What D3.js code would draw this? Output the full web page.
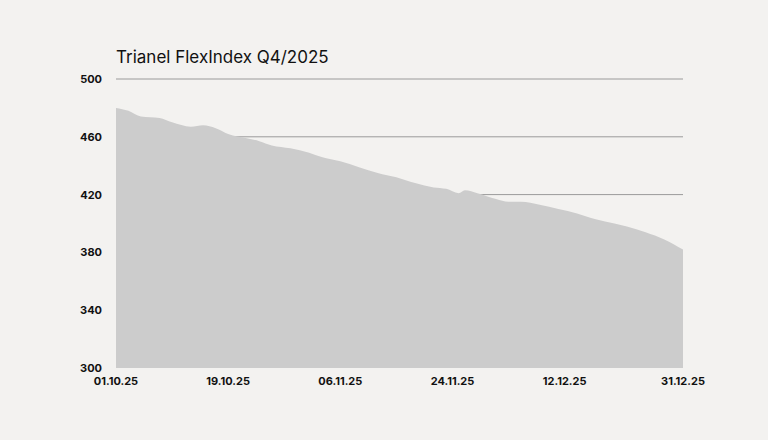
<!DOCTYPE html>
<html><head><meta charset="utf-8">
<script src="https://cdn.jsdelivr.net/npm/d3@7"></script>
<style>body{margin:0;background:#f3f2f0;}svg{display:block;font-family:Inter,"Noto Sans",sans-serif;}</style>
</head><body><svg id="c" width="768" height="440"></svg>
<script>
const title = "Trianel FlexIndex Q4/2025";
const dates = ["2025-10-01","2025-10-03","2025-10-05","2025-10-08","2025-10-10","2025-10-13","2025-10-15","2025-10-17","2025-10-19","2025-10-22","2025-10-24","2025-10-26","2025-10-29","2025-11-01","2025-11-03","2025-11-06","2025-11-09","2025-11-12","2025-11-15","2025-11-18","2025-11-21","2025-11-23","2025-11-25","2025-11-26","2025-11-28","2025-12-01","2025-12-03","2025-12-05","2025-12-08","2025-12-11","2025-12-14","2025-12-17","2025-12-20","2025-12-22","2025-12-25","2025-12-28","2025-12-31"];
const values = [480,478,474,473,470,467,468,466,462,459,457,454,452,449,446,443,439,435,432,428,425,424,421,423,421,417,415,415,413,410,407,403,400,398,394,389,382];
const xTicks = ["2025-10-01","2025-10-19","2025-11-06","2025-11-24","2025-12-12","2025-12-31"];
const yTicks = [300,340,380,420,460,500];
const gridVals = [420,460,500];

const parse = d3.utcParse("%Y-%m-%d");
const data = dates.map((d,i)=>({d:parse(d),v:values[i]}));
const svg = d3.select("#c");
const x = d3.scaleUtc().domain([parse(dates[0]),parse(dates[dates.length-1])]).range([116,683]);
const y = d3.scaleLinear().domain([300,500]).range([368,79]);

svg.append("text").attr("x",116).attr("y",63).attr("font-size",17).attr("fill","#111").text(title);
svg.append("g").selectAll("line").data(gridVals).join("line")
  .attr("x1",116).attr("x2",683).attr("y1",d=>y(d)).attr("y2",d=>y(d)).attr("stroke","#9a9a9a").attr("stroke-width",1);
svg.append("path").datum(data).attr("fill","#cccccc")
  .attr("d",d3.area().x(d=>x(d.d)).y0(y(300)).y1(d=>y(d.v)).curve(d3.curveMonotoneX));
svg.append("g").selectAll("text").data(yTicks).join("text")
  .attr("x",102).attr("y",d=>y(d)+4).attr("text-anchor","end").attr("font-size",11).attr("font-weight",700).attr("fill","#111").text(d=>d);
const fmt = d3.utcFormat("%d.%m.%y");
svg.append("g").selectAll("text").data(xTicks).join("text")
  .attr("x",d=>x(parse(d))).attr("y",385).attr("text-anchor","middle").attr("font-size",11).attr("font-weight",700).attr("fill","#111").text(d=>fmt(parse(d)));
</script></body></html>
